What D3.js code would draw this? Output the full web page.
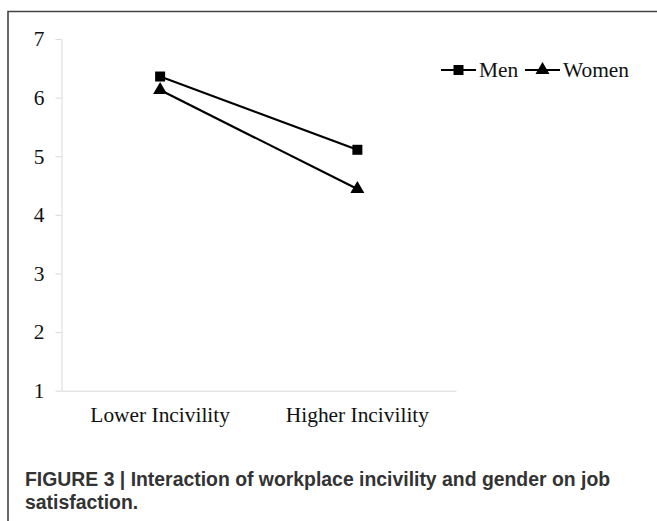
<!DOCTYPE html>
<html lang="en">
<head>
    <meta charset="UTF-8">
    <title>Workplace incivility and gender on job satisfaction</title>
    <script src="https://d3js.org/d3.v7.min.js"></script>
    <style>
        body { margin: 0; background: #fff; }
    </style>
</head>
<body>
    <svg width="657" height="521"></svg>
    <script>
        // Data
        const categories = ["Lower Incivility", "Higher Incivility"];
        const seriesNames = ["Men", "Women"];
        const menValues = [6.36, 5.11];
        const womenValues = [6.13, 4.44];
        const yTicks = [1, 2, 3, 4, 5, 6, 7];

        const svgWidth = 657;
        const svgHeight = 521;

        const svg = d3.select("svg")
            .attr("width", svgWidth)
            .attr("height", svgHeight);

        // Figure frame (top and left edges only)
        svg.append("path")
            .attr("d", `M8,${svgHeight} L8,11.5 L${svgWidth},11.5`)
            .attr("fill", "none")
            .attr("stroke", "#444")
            .attr("stroke-width", 1.6);

        // Plot area
        const plot = { left: 61.5, right: 456, top: 39, bottom: 390.7 };

        const x = d3.scaleBand()
            .domain(categories)
            .range([plot.left, plot.right]);

        const y = d3.scaleLinear()
            .domain([1, 7])
            .range([plot.bottom, plot.top]);

        const serif = "'Liberation Serif', 'Times New Roman', serif";
        const fontSize = 21.4;

        // Y axis
        const yAxis = d3.axisLeft(y)
            .tickValues(yTicks)
            .tickFormat(d3.format("d"))
            .tickSizeInner(6)
            .tickSizeOuter(0)
            .tickPadding(11);

        const gy = svg.append("g")
            .attr("transform", `translate(${plot.left},0)`)
            .call(yAxis);
        gy.select(".domain").attr("stroke", "#d9d9d9");
        gy.selectAll(".tick line").attr("stroke", "#d9d9d9");
        gy.selectAll(".tick text")
            .attr("font-family", serif)
            .attr("font-size", fontSize)
            .attr("fill", "#111");

        // X axis
        const xAxis = d3.axisBottom(x)
            .tickSize(0)
            .tickPadding(0);

        const gx = svg.append("g")
            .attr("transform", `translate(0,${plot.bottom})`)
            .call(xAxis);
        gx.select(".domain").attr("stroke", "#d9d9d9");
        gx.selectAll(".tick text")
            .attr("y", 31.5)
            .attr("dy", 0)
            .attr("font-family", serif)
            .attr("font-size", fontSize)
            .attr("fill", "#111");

        // Series lines and markers
        const series = [
            { name: seriesNames[0], values: menValues, symbol: d3.symbolSquare, size: 100 },
            { name: seriesNames[1], values: womenValues, symbol: d3.symbolTriangle, size: 85 }
        ];

        const line = d3.line()
            .x((d, i) => x(categories[i]) + x.bandwidth() / 2)
            .y(d => y(d));

        series.forEach(s => {
            svg.append("path")
                .datum(s.values)
                .attr("d", line)
                .attr("fill", "none")
                .attr("stroke", "#000")
                .attr("stroke-width", 2.2);

            svg.append("g")
                .selectAll("path")
                .data(s.values)
                .enter()
                .append("path")
                .attr("transform", (d, i) => `translate(${x(categories[i]) + x.bandwidth() / 2},${y(d)})`)
                .attr("d", d3.symbol().type(s.symbol).size(s.size))
                .attr("fill", "#000");
        });

        // Legend
        const legend = svg.append("g").attr("transform", "translate(0,70)");
        const legendX = [441, 525];
        series.forEach((s, i) => {
            const lx = legendX[i];
            legend.append("line")
                .attr("x1", lx).attr("x2", lx + 35)
                .attr("y1", 0).attr("y2", 0)
                .attr("stroke", "#000")
                .attr("stroke-width", 2.2);
            legend.append("path")
                .attr("transform", `translate(${lx + 17.5},0)`)
                .attr("d", d3.symbol().type(s.symbol).size(s.size))
                .attr("fill", "#000");
            legend.append("text")
                .attr("x", lx + 38)
                .attr("y", 7)
                .attr("font-family", serif)
                .attr("font-size", fontSize)
                .attr("fill", "#111")
                .text(s.name);
        });

        // Caption
        const caption = svg.append("text")
            .attr("font-family", "'Liberation Sans', Arial, sans-serif")
            .attr("font-weight", "bold")
            .attr("font-size", 19.4)
            .attr("fill", "#333");
        caption.append("tspan")
            .attr("x", 25).attr("y", 486)
            .text("FIGURE 3 | Interaction of workplace incivility and gender on job");
        caption.append("tspan")
            .attr("x", 25).attr("y", 509)
            .text("satisfaction.");
    </script>
</body>
</html>
